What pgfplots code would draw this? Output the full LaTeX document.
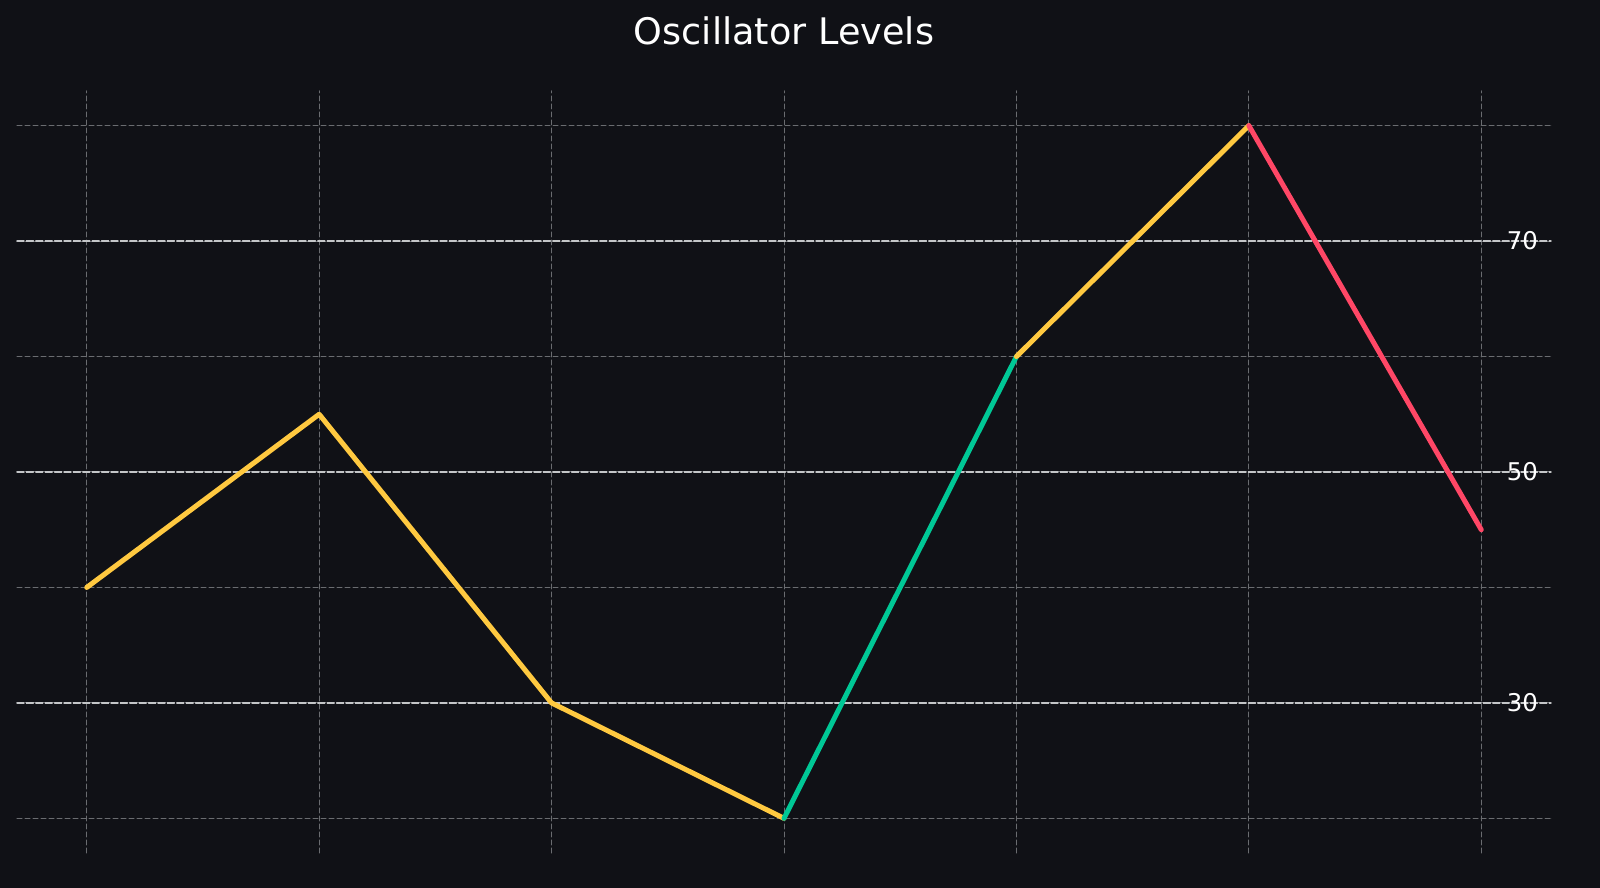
\documentclass[border=0pt]{standalone}
\usepackage{fontspec}
\setmainfont{DejaVu Sans}
\usepackage{pgfplots}
\pgfplotsset{compat=1.18}

\definecolor{bg}{HTML}{101116}
\definecolor{gridgray}{HTML}{6A6C70}
\definecolor{levelgray}{HTML}{C4C6C8}
\definecolor{oscyellow}{HTML}{FFC940}
\definecolor{oscgreen}{HTML}{00C896}
\definecolor{oscred}{HTML}{FF4766}

\begin{document}
\begin{tikzpicture}
\fill[bg] (0bp,0bp) rectangle (800bp,444bp);
\begin{axis}[
    at={(8.5bp,17.5bp)}, anchor=south west,
    scale only axis,
    width=767bp, height=381bp,
    xmin=-0.3, xmax=6.3,
    ymin=17, ymax=83,
    xtick={0,...,6},
    ytick={20,30,...,80},
    xticklabels={},
    yticklabels={},
    major tick length=0pt,
    axis line style={draw=none},
    grid=major,
    major grid style={gridgray, line width=0.5bp, dash pattern=on 2.5bp off 1.5bp},
    extra y ticks={30,50,70},
    extra y tick labels={30,50,70},
    extra y tick style={
        grid=major,
        major grid style={levelgray, line width=0.7bp, dash pattern=on 3.5bp off 1.2bp},
        yticklabel pos=right,
        tick label style={anchor=east, xshift=-3bp, font=\fontsize{12.2bp}{14bp}\selectfont, text=white},
    },
    /pgf/number format/assume math mode=true,
    title={Oscillator Levels},
    title style={at={(axis description cs:0.5,1)}, anchor=center, yshift=24bp,
        font=\fontsize{18.3bp}{22bp}\selectfont, text=white},
    line cap=round, line join=round,
]
\addplot[oscyellow, line width=2.5bp] coordinates {(0,40) (1,55) (2,30) (3,20)};
\addplot[oscgreen, line width=2.5bp] coordinates {(3,20) (4,60)};
\addplot[oscyellow, line width=2.5bp] coordinates {(4,60) (5,80)};
\addplot[oscred, line width=2.5bp] coordinates {(5,80) (6,45)};
\end{axis}
\pgfresetboundingbox
\path[use as bounding box] (0bp,0bp) rectangle (800bp,444bp);
\end{tikzpicture}
\end{document}
